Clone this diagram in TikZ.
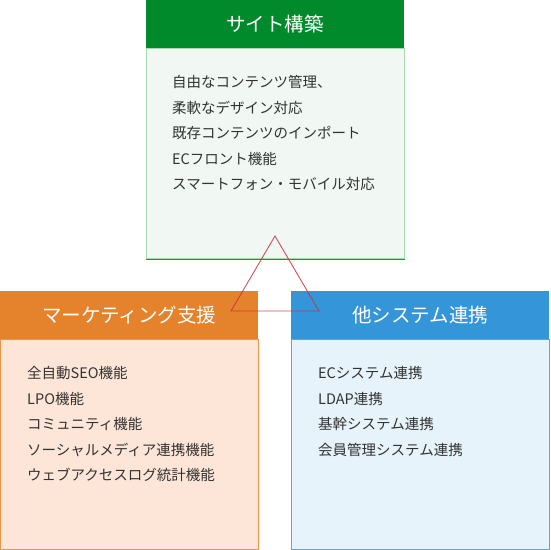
\documentclass[tikz,border=0pt]{standalone}
\usepackage{fontspec}
\setmainfont{Noto Sans CJK JP}
\usepackage{xcolor}
\usepackage{tikz}
\usetikzlibrary{positioning}
\definecolor{sitegreen}{HTML}{008A2C}
\definecolor{sitedark}{HTML}{169A3A}
\definecolor{siteline}{HTML}{A3D9AE}
\definecolor{sitefill}{HTML}{F1F7F3}
\definecolor{mktorange}{HTML}{E5832D}
\definecolor{mktline}{HTML}{E8964C}
\definecolor{mktfill}{HTML}{FDE6D8}
\definecolor{sysblue}{HTML}{3495D9}
\definecolor{sysline}{HTML}{5AA6DD}
\definecolor{sysfill}{HTML}{E6F3FA}
\definecolor{textgray}{HTML}{333333}
\definecolor{trired}{HTML}{C8323A}
\tikzset{
    head/.style = {anchor=north west, inner sep=0pt, minimum width=258pt,
        minimum height=48pt, text=white, font=\fontsize{19.5}{19.5}\selectfont},
    body/.style = {inner sep=0pt, minimum width=258pt, minimum height=210pt,
        line width=1pt},
    item/.style = {anchor=west, inner sep=0pt, text=textgray,
        font=\fontsize{14.5}{14.5}\selectfont},
    tri/.style = {trired, line width=0.9pt, opacity=0.85, line join=miter},
}

\begin{document}
\begin{tikzpicture}[x=1pt,y=-1pt]
        \useasboundingbox (0,0) rectangle (550,550);
        % site
        \node [head, fill=sitegreen] (site_head) at (146,0) {サイト構築};
        \node [body, below=0pt of site_head, fill=sitefill, draw=siteline] (site_body) {};
        \draw [sitedark, line width=1pt] (site_body.south west) -- (site_body.south east);
        \foreach \txt [count=\i] in {自由なコンテンツ管理、, 柔軟なデザイン対応,
            既存コンテンツのインポート, ECフロント機能, スマートフォン・モバイル対応}
            \node [item] (site_item\i) at (172, 56.5+25.5*\i) {\txt};
        % marketing
        \node [head, fill=mktorange] (mkt_head) at (0,291) {マーケティング支援};
        \node [body, below=0pt of mkt_head, fill=mktfill, draw=mktline] (mkt_body) {};
        \foreach \txt [count=\i] in {全自動SEO機能, LPO機能, コミュニティ機能,
            ソーシャルメディア連携機能, ウェブアクセスログ統計機能}
            \node [item] (mkt_item\i) at (27, 347.5+25.5*\i) {\txt};
        % systems
        \node [head, fill=sysblue] (sys_head) at (291,291) {他システム連携};
        \node [body, below=0pt of sys_head, fill=sysfill, draw=sysline] (sys_body) {};
        \foreach \txt [count=\i] in {ECシステム連携, LDAP連携, 基幹システム連携,
            会員管理システム連携}
            \node [item] (sys_item\i) at (318, 347.5+25.5*\i) {\txt};
        % triangle
        \coordinate (tri_top) at (275,236);
        \coordinate (tri_left) at (231,311);
        \coordinate (tri_right) at (319,311);
        \draw [tri] (tri_top) -- (tri_left) -- (tri_right) -- cycle;
\end{tikzpicture}
\end{document}
